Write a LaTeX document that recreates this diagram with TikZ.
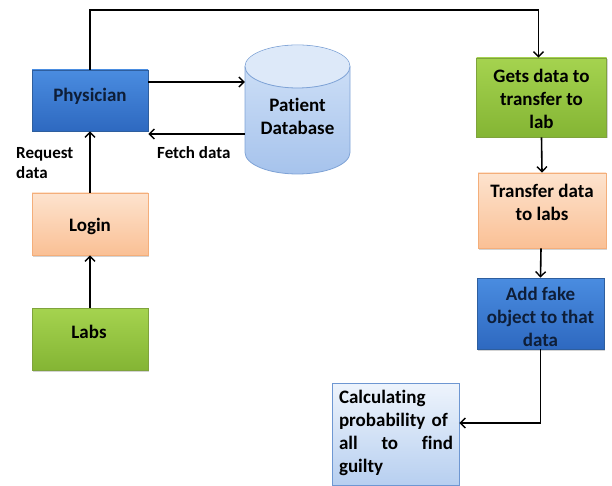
\documentclass[tikz,border=0pt]{standalone}
\usepackage{fontspec}
\setmainfont{Carlito}[RawFeature={-liga;-clig;-calt;-dlig}]
\usetikzlibrary{arrows.meta,shadows}
\definecolor{bluetop}{HTML}{4A8CE0}
\definecolor{bluebot}{HTML}{2E69C0}
\definecolor{blueline}{HTML}{2E5E9E}
\definecolor{greentop}{HTML}{A5D34F}
\definecolor{greenbot}{HTML}{84B534}
\definecolor{greenline}{HTML}{7FA33C}
\definecolor{orangetop}{HTML}{FDE3CE}
\definecolor{orangebot}{HTML}{FAC095}
\definecolor{orangeline}{HTML}{F4AE7A}
\definecolor{calctop}{HTML}{EEF4FC}
\definecolor{calcbot}{HTML}{B7CFF0}
\definecolor{calcline}{HTML}{6E97D2}
\definecolor{dbtop}{HTML}{D3E3F8}
\definecolor{dbbot}{HTML}{A6C3EC}
\definecolor{dbcap}{HTML}{DDE9F9}
\definecolor{dbline}{HTML}{7FA3D6}
\definecolor{navytext}{HTML}{0E1E38}
\tikzset{
  box/.style={rectangle, line width=0.8pt, drop shadow={shadow xshift=1.2pt, shadow yshift=-1.5pt, opacity=0.35}},
  bluebox/.style={box, draw=blueline, top color=bluetop, bottom color=bluebot},
  greenbox/.style={box, draw=greenline, top color=greentop, bottom color=greenbot},
  orangebox/.style={box, draw=orangeline, top color=orangetop, bottom color=orangebot},
  calcbox/.style={box, draw=calcline, top color=calctop, bottom color=calcbot},
  maintext/.style={font=\fontsize{19}{23}\selectfont\bfseries, align=center, text=black},
  labeltext/.style={font=\fontsize{17}{20}\selectfont\bfseries, align=left, text=black},
  conn/.style={line width=1.6pt, -{Straight Barb[length=5pt,width=10pt,line width=1.4pt]}},
}
\begin{document}
\begin{tikzpicture}[x=1pt,y=1pt]
\useasboundingbox (0,0) rectangle (612,-486);
% Patient database cylinder
\node[minimum width=105pt, minimum height=129pt, inner sep=0pt] (db) at (297.5,-109.5) {};
\shade[top color=dbtop, bottom color=dbbot, draw=dbline, line width=0.8pt]
  (245,-66.5) -- (245,-152.5) arc[start angle=180, end angle=360, x radius=52.5pt, y radius=21.5pt]
  -- (350,-66.5) arc[start angle=0, end angle=180, x radius=52.5pt, y radius=21.5pt] -- cycle;
\fill[dbcap] (297.5,-66.5) ellipse[x radius=52.1pt, y radius=21.1pt];
\draw[dbline, line width=0.8pt] (245,-66.5) arc[start angle=180, end angle=360, x radius=52.5pt, y radius=21.5pt];
\node[maintext] (dbtext) at (297.5,-116.5) {Pat\kern0pt ient\\Database};
% boxes
\node[bluebox, minimum width=116pt, minimum height=61pt] (phys) at (90,-100.5) {};
\node[maintext, text=navytext] (physt) at (90,-96) {Physician};
\node[orangebox, minimum width=116pt, minimum height=62pt] (login) at (90,-224) {};
\node[maintext] (logint) at (90,-226) {Login};
\node[greenbox, minimum width=116pt, minimum height=62pt] (labs) at (90,-339) {};
\node[maintext] (labst) at (89,-332) {Labs};
\node[greenbox, minimum width=130pt, minimum height=79pt] (gets) at (541.5,-97.5) {};
\node[maintext] (getst) at (541.5,-99) {Gets data to\\transfer to\\lab};
\node[orangebox, minimum width=128pt, minimum height=75pt] (trans) at (542,-210.5) {};
\node[maintext] (transt) at (542,-202) {Transfer data\\to labs};
\node[bluebox, minimum width=127pt, minimum height=71pt] (fake) at (540.5,-313.5) {};
\node[maintext, text=navytext] (faket) at (540.5,-317) {Add fake\\object to that\\data};
\node[calcbox, minimum width=127pt, minimum height=102pt] (calc) at (395.5,-434) {};
\node[maintext, align=left, text width=114pt, inner sep=0pt] (calct) at (396,-433) {Calculat\kern0pt ing\\probability of\\all\hfill to\hfill find\\guilty};
% labels
\node[labeltext, anchor=west, inner sep=0pt] (req) at (16,-163) {Request\\data};
\node[labeltext, anchor=west, inner sep=0pt] (fetch) at (157,-153) {Fetch data};
% connectors
\coordinate (pe1) at ([yshift=18.5pt]phys.east);
\coordinate (dw1) at ([yshift=-24.5pt]db.west);
\draw[conn] (pe1) -- (db.west |- pe1);
\draw[conn] (dw1) -- (phys.east |- dw1);
\draw[conn] (login.north) -- (phys.south);
\draw[conn] (labs.north) -- (login.south);
\coordinate (topturn) at (90,-10);
\coordinate (getsin) at ([xshift=-3pt]gets.north);
\draw[conn] (phys.north) -- (topturn) -| (getsin);
\draw[conn] (gets.south) -- (trans.north);
\coordinate (transout) at ([xshift=-1pt]trans.south);
\draw[conn] (transout) -- (fake.north);
\coordinate (calcin) at ([yshift=11pt]calc.east);
\draw[conn] (fake.south) |- (calcin);
\end{tikzpicture}
\end{document}
